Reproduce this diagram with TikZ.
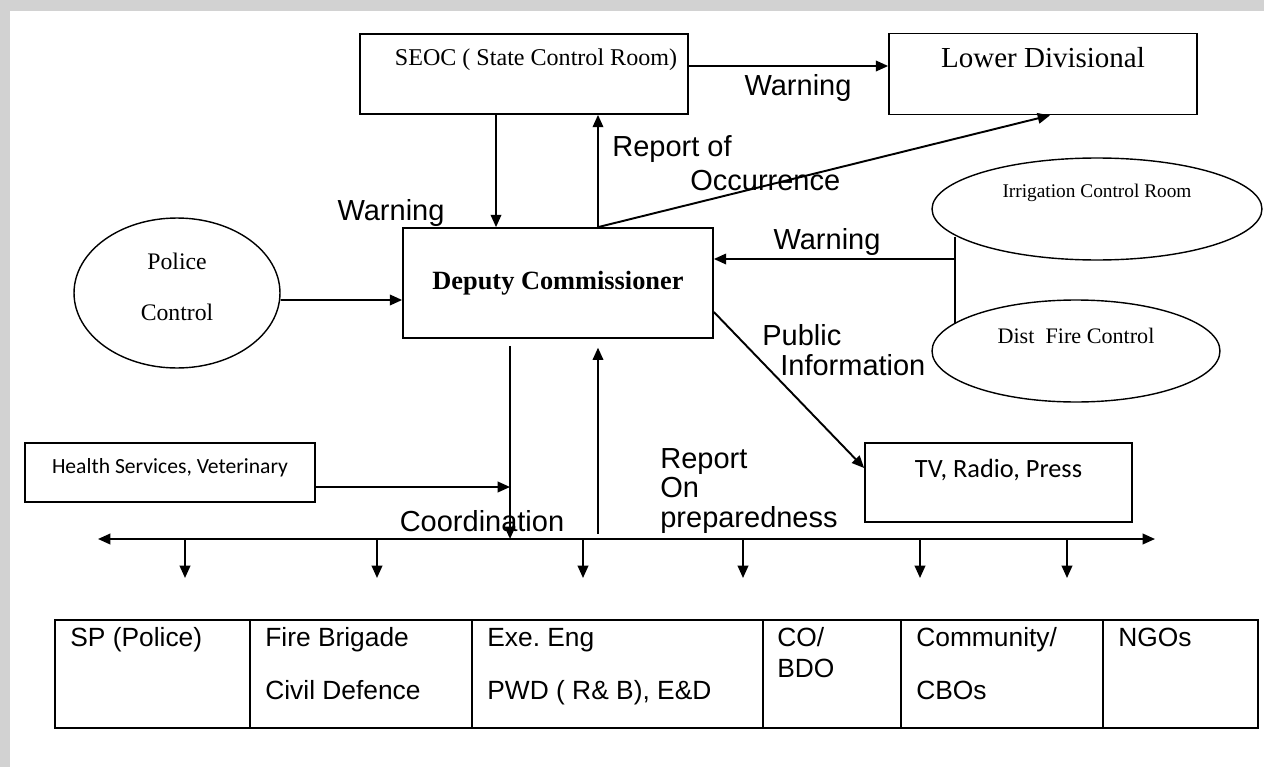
\documentclass[tikz,border=0pt]{standalone}
\usepackage{fontspec}
\setmainfont{Liberation Serif}
\setsansfont{Liberation Sans}
\newfontfamily\calibri{Carlito}
\usetikzlibrary{shapes,positioning,arrows.meta}

\tikzset{
  box/.style={draw, line width=1pt, inner sep=0pt},
  oval/.style={draw, ellipse, line width=0.8pt, inner sep=0pt},
  arr/.style={line width=1.1pt, -{Triangle[length=7pt,width=6pt]}},
  lbl/.style={font=\sffamily\fontsize{16.5}{17}\selectfont, inner sep=0pt},
  cell/.style={font=\sffamily\fontsize{15}{17}\selectfont, anchor=base west, inner sep=0pt},
}

\begin{document}
\frenchspacing
\begin{tikzpicture}[x=0.02cm, y=-0.02cm]

% Marco
\useasboundingbox (0,0) rectangle (1264,767);
\fill[gray!35] (0,0) rectangle (1264,767);
\fill[white] (10,11) rectangle (1264,767);

% Cajas superiores
\node[box, minimum width=6.56cm, minimum height=1.6cm,
  label={[anchor=north, xshift=0.24cm, yshift=-0.18cm, font=\fontsize{13.7}{16}\selectfont]north:{SEOC ( State Control Room)}}] (seoc) at (524,74) {};
\node[box, minimum width=6.16cm, minimum height=1.62cm,
  label={[anchor=north, yshift=-0.18cm, font=\fontsize{16.5}{19}\selectfont]north:{Lower Divisional}}] (lowdiv) at (1043,74) {};

% Deputy Commissioner
\node[box, minimum width=6.2cm, minimum height=2.2cm, font=\bfseries\fontsize{15}{18}\selectfont] (dc) at (558,283) {Deputy Commissioner};

% Elipses
\node[oval, minimum width=4.12cm, minimum height=3cm,
  label={[anchor=center, align=center, yshift=0.12cm, font=\fontsize{13.5}{16}\selectfont]center:{Police\\[13pt]Control}}] (police) at (177,293) {};
\node[oval, minimum width=6.6cm, minimum height=2.04cm,
  label={[anchor=north, yshift=-0.42cm, font=\fontsize{11}{13}\selectfont]north:{Irrigation Control Room}}] (irrig) at (1097,209) {};
\node[oval, minimum width=5.76cm, minimum height=2.04cm,
  label={[anchor=north, yshift=-0.46cm, font=\fontsize{12.6}{15}\selectfont]north:{Dist\ \ Fire Control}}] (fire) at (1076,351) {};

% Cajas inferiores
\node[box, minimum width=5.8cm, minimum height=1.18cm,
  label={[anchor=north, yshift=-0.2cm, font=\calibri\fontsize{12.3}{15}\selectfont]north:{Health Services, Veterinary}}] (health) at (170,472.5) {};
\node[box, minimum width=5.34cm, minimum height=1.58cm,
  label={[anchor=north, yshift=-0.21cm, font=\calibri\fontsize{15}{18}\selectfont]north:{TV, Radio, Press}}] (tv) at (998.5,482.5) {};

% Flechas de aviso
\draw[arr] ([yshift=0.16cm]seoc.east) -- ([yshift=0.16cm]lowdiv.west);
\draw[arr] ([xshift=-0.56cm]seoc.south) -- ([xshift=-1.24cm]dc.north);
\coordinate (occ) at ([xshift=0.8cm]dc.north);
\draw[arr] (occ) -- (occ |- seoc.south);
\draw[arr] (occ) -- ([xshift=0.14cm]lowdiv.south);
\draw[arr] ([yshift=-0.14cm]police.east) -- ([yshift=-0.34cm]dc.west);

% Riego y bomberos
\coordinate (jtop) at (955,237);
\coordinate (jbot) at (955,323);
\coordinate (join) at (955,259);
\draw[line width=1pt] (jtop) -- (jbot);
\draw[arr] (join) -- (join -| dc.east);

% Informacion publica
\draw[arr] ([yshift=-0.58cm]dc.east) -- ([yshift=0.29cm]tv.west);

% Barra de coordinacion
\coordinate (busL) at (98,539);
\coordinate (busR) at (1155,539);
\draw[line width=1.1pt, {Triangle[length=7pt,width=6pt]}-{Triangle[length=7pt,width=6pt]}] (busL) -- (busR);
\foreach \x in {185,377,583,743,920,1067} {
  \coordinate (t\x) at (\x,578);
  \draw[arr] (busL -| t\x) -- (t\x);
}

\coordinate (coord) at ([xshift=-0.96cm]dc.south);
\draw[arr, shorten <=4pt] (coord) -- (coord |- busL);
\coordinate (hs) at ([yshift=-0.29cm]health.east);
\draw[arr] (hs) -- (hs -| coord);
\coordinate (prep) at ([xshift=0.8cm]dc.south);
\draw[arr, shorten >=5pt, shorten <=3pt] (prep |- busL) -- (prep);

% Etiquetas
\node[lbl] (warn1) at (798,88) {Warning};
\node[lbl] (warn2) at (391,213) {Warning};
\node[lbl] (warn3) at (827,242) {Warning};
\node[lbl, anchor=west] (rep1) at (612,149) {Report of};
\node[lbl, anchor=west] (rep2) at (690,181) {Occurrence};
\node[lbl, anchor=west] (pub1) at (762,335) {Public};
\node[lbl, anchor=west] (pub2) at (780,365) {Information};
\node[lbl] (coordl) at (482,521) {Coordination};
\node[lbl, anchor=west, align=left] (prepl) at (660,491) {Report\\On\\preparedness};

% Tabla
\draw[line width=0.8pt] (55,620) rectangle (1258,728);
\foreach \x in {250,472,763,901,1103}
  \draw[line width=0.8pt] (\x,620) -- (\x,728);
\node[cell] (sp) at (70,646) {SP (Police)};
\node[cell] (fb) at (265,646) {Fire Brigade};
\node[cell] (cd) at (265,699) {Civil Defence};
\node[cell] (ee) at (487,646) {Exe. Eng};
\node[cell] (pwd) at (487,699) {PWD ( R\& B), E\&D};
\node[cell] (co) at (777,646) {CO/};
\node[cell] (bdo) at (777,677) {BDO};
\node[cell] (com) at (916,646) {Community/};
\node[cell] (cbo) at (916,699) {CBOs};
\node[cell] (ngo) at (1118,646) {NGOs};

\end{tikzpicture}
\end{document}
